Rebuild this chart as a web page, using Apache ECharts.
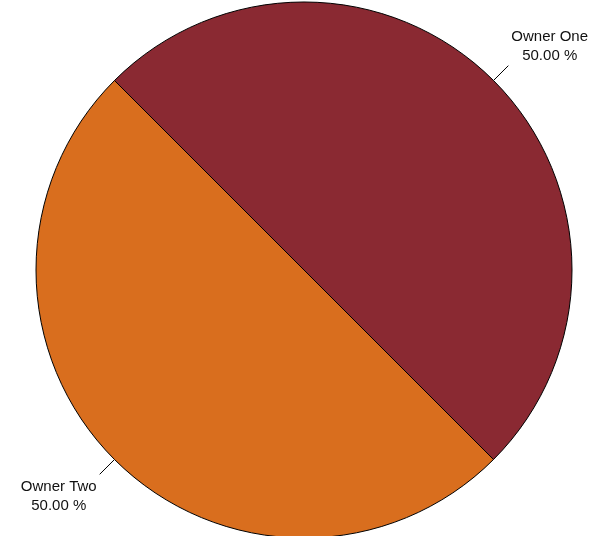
<!DOCTYPE html>
<html>
<head>
<meta charset="utf-8">
<script src="https://cdn.jsdelivr.net/npm/echarts@6/dist/echarts.min.js"></script>
<style>
html,body{margin:0;padding:0;background:#fff;}
#chart{width:597px;height:536px;}
</style>
</head>
<body>
<div id="chart"></div>
<script>
const categories = ['Owner One', 'Owner Two'];
const values = [50, 50];
const colors = ['#8A2932', '#D96E1E'];

const labelPads = [[0, 0, 38, 2], [44, 2, 0, 0]];

const chart = echarts.init(document.getElementById('chart'), null, {renderer: 'canvas'});
chart.setOption({
  animation: false,
  backgroundColor: '#ffffff',
  series: [{
    type: 'pie',
    center: [304, 270],
    radius: 268,
    startAngle: 135,
    clockwise: true,
    avoidLabelOverlap: false,
    emphasis: {disabled: true},
    itemStyle: {borderColor: '#000000', borderWidth: 1},
    labelLine: {show: true, length: 21, length2: 0, lineStyle: {color: '#000000', width: 1}},
    label: {
      show: true,
      position: 'outside',
      distanceToLabelLine: 1,
      formatter: function (p) {
        return '{a|' + p.name + '}\n{a|' + p.percent.toFixed(2) + ' %}';
      },
      rich: {
        a: {align: 'center', fontFamily: 'Liberation Sans, Arial, sans-serif', fontSize: 15, lineHeight: 19, color: '#111111'}
      }
    },
    data: categories.map(function (c, i) {
      return {
        name: c,
        value: values[i],
        itemStyle: {color: colors[i]},
        label: {padding: labelPads[i]}
      };
    })
  }]
});
</script>
</body>
</html>
